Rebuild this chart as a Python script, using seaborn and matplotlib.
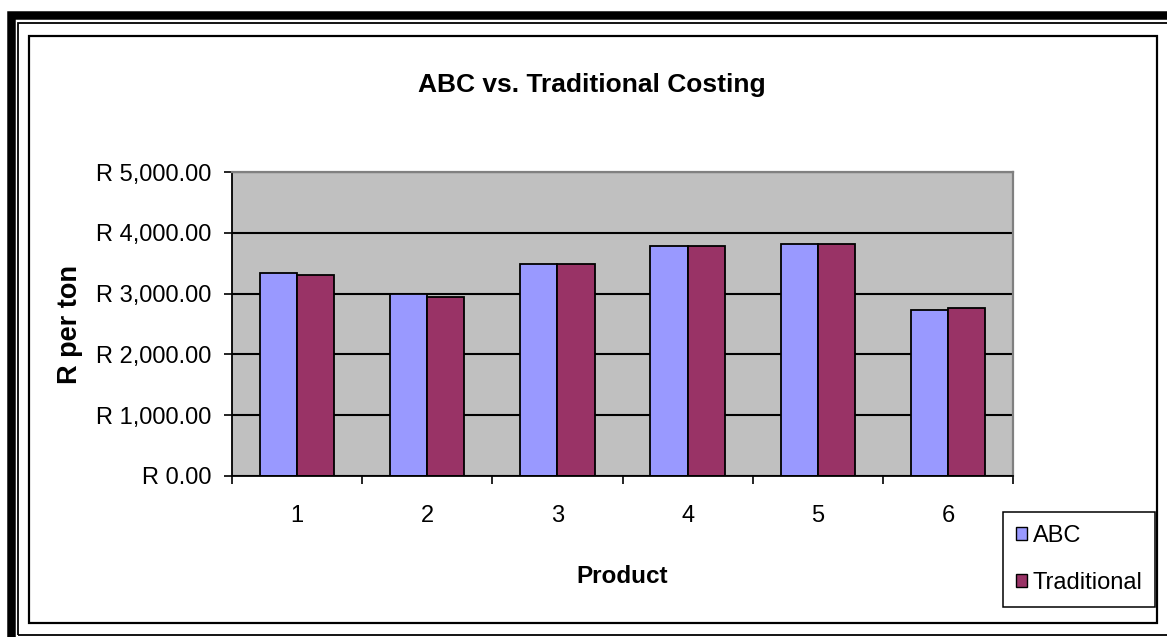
import numpy as np
import pandas as pd
import matplotlib
matplotlib.use("Agg")
import matplotlib.pyplot as plt
import seaborn as sns
from matplotlib.patches import Rectangle, Patch
from matplotlib.ticker import FuncFormatter, FixedLocator

# Cost per ton for each product under the two costing methods
products = ["1", "2", "3", "4", "5", "6"]
abc_cost = [3340, 2990, 3480, 3790, 3820, 2725]
trad_cost = [3300, 2945, 3480, 3790, 3820, 2765]
methods = ["ABC", "Traditional"]
colors = ["#9999FF", "#993366"]
y_ticks = [0, 1000, 2000, 3000, 4000, 5000]

df = pd.DataFrame({
    "Product": products * 2,
    "Method": [methods[0]] * len(products) + [methods[1]] * len(products),
    "Cost": abc_cost + trad_cost,
})

plt.rcParams["font.family"] = ["Liberation Sans", "DejaVu Sans"]

W, H = 1167, 637
fig = plt.figure(figsize=(W / 100, H / 100), dpi=100)


def fx(px):
    return px / W


def fy(py):
    return 1 - py / H


def frame(x0, y0, x1, y1, lw_px, color="black"):
    fig.add_artist(Rectangle((fx(x0), fy(y1)), fx(x1) - fx(x0), fy(y0) - fy(y1),
                             fill=False, lw=lw_px * 0.72, edgecolor=color,
                             transform=fig.transFigure, clip_on=False))


# Double page border and chart frame
frame(11, 15.5, 1400, 800, 8.5)
frame(17.5, 23, 1400, 635, 1.8)
frame(29, 35.5, 1157, 623, 2.2)

ax = fig.add_axes([fx(232), fy(476), (1013 - 232) / W, (476 - 172) / H])

sns.barplot(data=df, x="Product", y="Cost", hue="Method", order=products,
            hue_order=methods, palette=colors, saturation=1, width=2 / 3.5,
            edgecolor="black", linewidth=1.3, legend=False, ax=ax)

ax.set_xlim(-0.5, len(products) - 0.5)
ax.set_ylim(0, 5000)
ax.set_facecolor("#C0C0C0")

ax.yaxis.set_major_locator(FixedLocator(y_ticks))
ax.yaxis.set_major_formatter(FuncFormatter(lambda v, _: f"R {v:,.2f}"))
ax.yaxis.grid(True, color="black", lw=1.5)
ax.xaxis.grid(False)
ax.set_axisbelow(True)

ax.xaxis.set_minor_locator(FixedLocator(np.arange(-0.5, len(products), 1.0)))
ax.tick_params(axis="x", which="major", length=0, pad=21, labelsize=17)
ax.tick_params(axis="x", which="minor", length=5.8, width=1.2, direction="out")
ax.tick_params(axis="y", length=5.8, width=1.2, pad=9, labelsize=17, direction="out")

for side in ("left", "bottom"):
    ax.spines[side].set_color("black")
    ax.spines[side].set_linewidth(1.3)
for side in ("top", "right"):
    ax.spines[side].set_color("#808080")
    ax.spines[side].set_linewidth(1.6)

ax.set_xlabel("Product", fontsize=17.5, fontweight="bold")
ax.xaxis.set_label_coords(0.5, (476 - 583) / 304)
ax.xaxis.label.set_va("baseline")

ax.set_ylabel("R per ton", fontsize=19.5, fontweight="bold")
ax.yaxis.set_label_coords((70 - 232) / 781, 0.5)
ax.yaxis.label.set_va("center")

ax.set_title("ABC vs. Traditional Costing", fontsize=19, fontweight="bold",
             x=(592 - 232) / 781, y=(476 - 92) / 304, va="baseline", pad=0)

handles = [Patch(facecolor=c, edgecolor="black", lw=1.0) for c in colors]
leg = ax.legend(handles, methods, loc="upper left",
                bbox_to_anchor=(fx(1003), fy(512)), bbox_transform=fig.transFigure,
                frameon=True, fancybox=False, edgecolor="black", framealpha=1,
                fontsize=17, handlelength=0.45, handleheight=0.5,
                handletextpad=0.25, labelspacing=1.05, borderpad=0.55,
                borderaxespad=0)
leg.get_frame().set_linewidth(1.1)

fig.savefig("out.png", dpi=100)
